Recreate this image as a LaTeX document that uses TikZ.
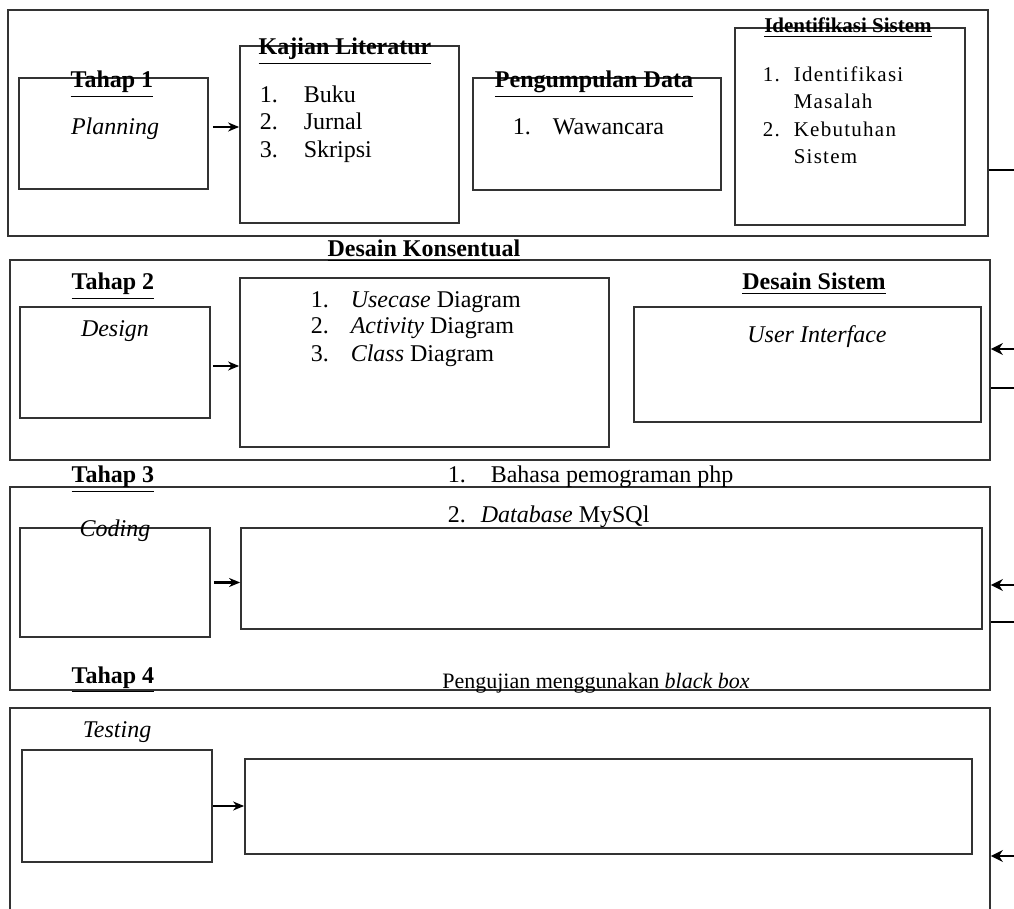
\documentclass[tikz,border=0pt]{standalone}
\usepackage{fontspec}
\setmainfont{Liberation Serif}
\usetikzlibrary{arrows.meta,positioning,fit}

\begin{document}
\begin{tikzpicture}
  [
  x=0.5pt, y=-0.5pt, font=\fontsize{12}{14}\selectfont, >={Stealth[length=5.5pt,width=4.5pt]}, line width=0.8pt,
  frame/.style={rectangle, draw=black!80, inner sep=0pt, line width=0.9pt},
  box/.style={rectangle, draw=black!80, inner sep=0pt, line width=0.9pt},
  title/.style={anchor=base, inner sep=0pt, font=\fontsize{12}{14}\selectfont\bfseries},
  label/.style={anchor=base, inner sep=0pt},
  num/.style={anchor=base west, inner sep=0pt},
  item/.style={anchor=base west, inner sep=0pt},
  flow/.style={->, line width=1.1pt},
  back/.style={->, >={Stealth[length=6pt,width=6pt]}, line width=1.1pt}
  ]

\clip (0,0) rectangle (1014,909);

% frames of the four stages
\node[frame, fit={(8,10) (988,236)}] (f1) {};
\node[frame, fit={(10,260) (990,460)}] (f2) {};
\node[frame, fit={(10,487) (990,690)}] (f3) {};
\node[frame, fit={(10,708) (990,940)}] (f4) {};

% tahap 1
\node[box, fit={(19,78) (208,189)}] (plan) {};
\node[box, fit={(240,46) (459,223)}] (kajian) {};
\node[box, fit={(473,78) (721,190)}] (kumpul) {};
\node[box, fit={(735,28) (965,225)}] (ident) {};

\node[title] (t1) at (112,88) {\underline{Tahap 1}};
\node[label] (lplan) at (115,135) {\textit{Planning}};
\node[title] (tkajian) at (345,55) {\underline{Kajian Literatur}};
\foreach \y/\t [count=\n] in {103/Buku,130/Jurnal,158/Skripsi} {
  \node[num] (kn\n) at (259,\y) {\n.};
  \node[item] (k\n) at (303,\y) {\t};
}
\node[title] (tkumpul) at (594,88) {\underline{Pengumpulan Data}};
\node[num] (wn1) at (512,135) {1.};
\node[item] (w1) at (552,135) {Wawancara};
\node[title, font=\fontsize{10.5}{12}\selectfont\bfseries] (tident) at (848,33) {\underline{Identifikasi Sistem}};
\begin{scope}[font=\fontsize{10.5}{12}\selectfont\addfontfeature{LetterSpace=6}]
\node[num] (in1) at (762,82) {1.};
\node[item] (i1) at (793,82) {Identifikasi};
\node[item] (i1b) at (793,109) {Masalah};
\node[num] (in2) at (762,137) {2.};
\node[item] (i2) at (793,137) {Kebutuhan};
\node[item] (i2b) at (793,164) {Sistem};
\end{scope}

\draw[flow] ([xshift=2pt,yshift=3.25pt]plan.east) -- ([yshift=3.25pt]plan.east -| kajian.west);

% tahap 2
\node[title] (tkonsep) at (424,257) {\underline{Desain Konsentual}};
\node[box, fit={(20,307) (210,418)}] (design) {};
\node[box, fit={(240,278) (609,447)}] (konsep) {};
\node[box, fit={(634,307) (981,422)}] (ui) {};

\node[title] (t2) at (113,290) {\underline{Tahap 2}};
\node[label] (ldesign) at (115,337) {\textit{Design}};
\foreach \y/\t [count=\n] in {308/Usecase,334/Activity,362/Class} {
  \node[num] (dn\n) at (310,\y) {\n.};
  \node[item] (d\n) at (350,\y) {\textit{\t} Diagram};
}
\node[title] (tsistem) at (814,290) {\underline{Desain Sistem}};
\node[label] (lui) at (817,343) {\textit{User Interface}};

\draw[flow] ([xshift=1pt,yshift=-1.75pt]design.east) -- ([yshift=-1.75pt]design.east -| konsep.west);

% tahap 3
\node[title] (t3) at (113,483) {\underline{Tahap 3}};
\node[num] (bn1) at (447,483) {1.};
\node[item] (b1) at (490,483) {Bahasa pemograman php};
\node[num] (bn2) at (447,523) {2.};
\node[item] (b2) at (480,523) {\textit{Database} MySQl};
\node[box, fit={(20,528) (210,637)}] (coding) {};
\node[box, fit={(241,528) (982,629)}] (kode) {};
\node[label] (lcoding) at (115,537) {\textit{Coding}};

\draw[flow] ([xshift=1.5pt]coding.east) -- (coding.east -| kode.west);

% tahap 4
\node[title] (t4) at (113,683) {\underline{Tahap 4}};
\node[label, font=\fontsize{11}{13}\selectfont] (luji) at (596,689) {Pengujian menggunakan \textit{black box}};
\node[label] (ltesting) at (117,738) {\textit{Testing}};
\node[box, fit={(22,750) (212,862)}] (testing) {};
\node[box, fit={(245,759) (972,854)}] (uji) {};

\draw[flow] (testing.east) -- (testing.east -| uji.west);

% links on the right side
\coordinate (o1) at (1014,170);
\coordinate (r2) at (1014,349);
\coordinate (o2) at (1014,388);
\coordinate (r3) at (1014,585);
\coordinate (o3) at (1014,622);
\coordinate (r4) at (1014,856);

\draw (o1 -| f1.east) -- (o1);
\draw[back] (r2) -- (r2 -| f2.east);
\draw (o2 -| f2.east) -- (o2);
\draw[back] (r3) -- (r3 -| f3.east);
\draw (o3 -| f3.east) -- (o3);
\draw[back] (r4) -- (r4 -| f4.east);

\end{tikzpicture}
\end{document}
